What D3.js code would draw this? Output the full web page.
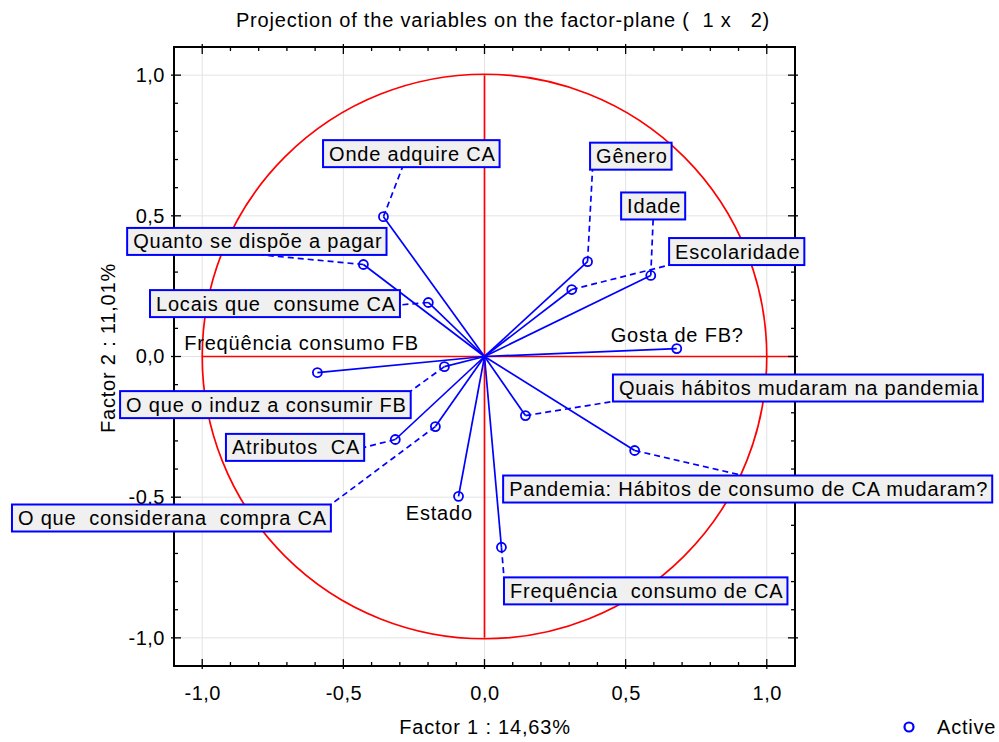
<!DOCTYPE html>
<html>
<head>
<meta charset="utf-8">
<script src="https://cdn.jsdelivr.net/npm/d3@7"></script>
<style>
  body { margin: 0; background: #fff; }
  svg text { font-family: "Liberation Sans", Arial, sans-serif; fill: #000; }
</style>
</head>
<body>
<script>
// variable names and coordinates on factors 1 and 2
var names = ["Onde adquire CA", "Quanto se dispõe a pagar", "Locais que  consume CA",
  "Freqüência consumo FB", "O que o induz a consumir FB", "Atributos  CA",
  "O que  considerana  compra CA", "Estado", "Frequência  consumo de CA",
  "Pandemia: Hábitos de consumo de CA mudaram?", "Quais hábitos mudaram na pandemia",
  "Gosta de FB?", "Escolaridade", "Idade", "Gênero"];
var factor1 = [-0.358, -0.429, -0.199, -0.592, -0.142, -0.316, -0.174, -0.092, 0.060,
  0.532, 0.145, 0.681, 0.309, 0.589, 0.365];
var factor2 = [0.497, 0.327, 0.192, -0.057, -0.036, -0.295, -0.249, -0.497, -0.678,
  -0.334, -0.210, 0.028, 0.238, 0.288, 0.337];
var ticks = [-1.0, -0.5, 0.0, 0.5, 1.0];

// label layout: box left / box middle (in factor units), leader anchor on the box (null = plain text)
var labelLeft = [-0.572, -1.266, -1.185, -1.085, -1.291, -0.916, -1.674, -0.300, 0.069,
  0.066, 0.455, 0.426, 0.654, 0.484, 0.374];
var labelMid = [0.721, 0.409, 0.188, 0.048, -0.171, -0.323, -0.574, -0.556, -0.833,
  -0.471, -0.112, 0.076, 0.373, 0.535, 0.712];
var anchorFx = [0.45, 0.52, 1, null, 1, 1, 1, null, 0, 0.49, 0, null, 0, 0.5, 0.03];
var anchorFy = [1, 1, 0.55, null, 0, 0.5, 0, null, 0, 0, 1, null, 1, 1, 1];

var W = 999, H = 742;
var pL = 174, pR = 795, pT = 47, pB = 666;

var svg = d3.select("body").append("svg")
  .attr("width", W).attr("height", H);

var x = d3.scaleLinear().domain([-1.1, 1.1]).range([pL, pR]);
var y = d3.scaleLinear().domain([-1.1, 1.1]).range([pB, pT]);
var fmt = function(d) { return d3.format(".1f")(d).replace(".", ",").replace("−", "-"); };

// title
svg.append("text")
  .attr("x", 503).attr("y", 27)
  .attr("text-anchor", "middle")
  .attr("xml:space", "preserve")
  .style("white-space", "pre")
  .style("font-size", "20px")
  .style("letter-spacing", "0.8px")
  .text("Projection of the variables on the factor-plane (  1 x   2)");

// grid
var grid = svg.append("g").attr("stroke", "#e3e3e3").attr("stroke-width", 1);
ticks.forEach(function(t) {
  grid.append("line").attr("x1", x(t)).attr("x2", x(t)).attr("y1", pT).attr("y2", pB);
  grid.append("line").attr("y1", y(t)).attr("y2", y(t)).attr("x1", pL).attr("x2", pR);
});

// unit circle and red axes
svg.append("circle")
  .attr("cx", x(0)).attr("cy", y(0))
  .attr("r", x(1) - x(0))
  .attr("fill", "none").attr("stroke", "#ff0000").attr("stroke-width", 1.7);
svg.append("line")
  .attr("x1", x(-1)).attr("x2", x(1.1)).attr("y1", y(0)).attr("y2", y(0))
  .attr("stroke", "#ff0000").attr("stroke-width", 1.7);
svg.append("line")
  .attr("x1", x(0)).attr("x2", x(0)).attr("y1", y(1)).attr("y2", y(-1))
  .attr("stroke", "#ff0000").attr("stroke-width", 1.7);

// axes: labels from d3 axes, tick marks inside the frame
var minor = d3.range(-11, 12).map(function(i) { return i / 10; });
var axB = d3.axisBottom(x).tickValues(ticks).tickSize(0).tickPadding(20).tickFormat(fmt);
var axL = d3.axisLeft(y).tickValues(ticks).tickSize(0).tickPadding(9).tickFormat(fmt);

var gB = svg.append("g").attr("transform", "translate(0," + pB + ")").call(axB);
var gL = svg.append("g").attr("transform", "translate(" + pL + ",0)").call(axL);
[gB, gL].forEach(function(g) {
  g.select(".domain").remove();
  g.selectAll("text").style("font-size", "20px").attr("fill", "#000")
    .style("letter-spacing", "0.5px")
    .style("font-family", "'Liberation Sans', Arial, sans-serif");
});

var tk = svg.append("g").attr("stroke", "#000").attr("stroke-width", 1.3);
minor.forEach(function(v) {
  var isMajor = Math.abs(v * 2 - Math.round(v * 2)) < 1e-9;
  var inL = isMajor ? 7 : 4, outL = isMajor ? 3 : 0;
  tk.append("line").attr("x1", x(v)).attr("x2", x(v)).attr("y1", pB + outL).attr("y2", pB - inL);
  tk.append("line").attr("x1", x(v)).attr("x2", x(v)).attr("y1", pT - outL).attr("y2", pT + inL);
  tk.append("line").attr("y1", y(v)).attr("y2", y(v)).attr("x1", pL - outL).attr("x2", pL + inL);
  tk.append("line").attr("y1", y(v)).attr("y2", y(v)).attr("x1", pR + outL).attr("x2", pR - inL);
});

svg.append("rect")
  .attr("x", pL).attr("y", pT)
  .attr("width", pR - pL).attr("height", pB - pT)
  .attr("fill", "none").attr("stroke", "#000").attr("stroke-width", 2);

// axis titles
svg.append("text")
  .attr("x", 485).attr("y", 734)
  .attr("text-anchor", "middle").style("font-size", "20px").style("letter-spacing", "0.8px")
  .text("Factor 1 : 14,63%");
svg.append("text")
  .attr("transform", "translate(115,348) rotate(-90)")
  .attr("text-anchor", "middle").style("font-size", "20px").style("letter-spacing", "0.8px")
  .text("Factor 2 : 11,01%");

// vectors from the origin
svg.append("g").selectAll("line")
  .data(names).join("line")
  .attr("x1", x(0)).attr("y1", y(0))
  .attr("x2", function(d, i) { return x(factor1[i]); })
  .attr("y2", function(d, i) { return y(factor2[i]); })
  .attr("stroke", "#0000ff").attr("stroke-width", 1.7);

// labels
var leaders = svg.append("g");
var labs = svg.append("g");
names.forEach(function(name, i) {
  var g = labs.append("g");
  var lx = x(labelLeft[i]), my = y(labelMid[i]);
  var t = g.append("text")
    .attr("xml:space", "preserve")
    .style("white-space", "pre")
    .style("font-size", "20px")
    .style("letter-spacing", "0.8px")
    .attr("x", lx + 6).attr("y", my + 7)
    .text(name);
  if (anchorFx[i] === null) return;
  var w = t.node().getComputedTextLength() + 10, h = 27;
  var bx = lx, by = my - h / 2;
  g.insert("rect", "text")
    .attr("x", bx).attr("y", by).attr("width", w).attr("height", h)
    .attr("fill", "#f0f0f0").attr("stroke", "#0000ff").attr("stroke-width", 2);
  leaders.append("line")
    .attr("x1", x(factor1[i])).attr("y1", y(factor2[i]))
    .attr("x2", bx + anchorFx[i] * w).attr("y2", by + anchorFy[i] * h)
    .attr("stroke", "#0000ff").attr("stroke-width", 1.7)
    .attr("stroke-dasharray", "6,4");
});

// points
svg.append("g").selectAll("circle")
  .data(names).join("circle")
  .attr("cx", function(d, i) { return x(factor1[i]); })
  .attr("cy", function(d, i) { return y(factor2[i]); })
  .attr("r", 4.5)
  .attr("fill", "none").attr("stroke", "#0000ff").attr("stroke-width", 1.8);

// legend
svg.append("circle").attr("cx", 909).attr("cy", 727).attr("r", 4.5)
  .attr("fill", "none").attr("stroke", "#0000ff").attr("stroke-width", 2.2);
svg.append("text").attr("x", 937).attr("y", 734)
  .style("font-size", "20px").style("letter-spacing", "0.8px").text("Active");
</script>
</body>
</html>
